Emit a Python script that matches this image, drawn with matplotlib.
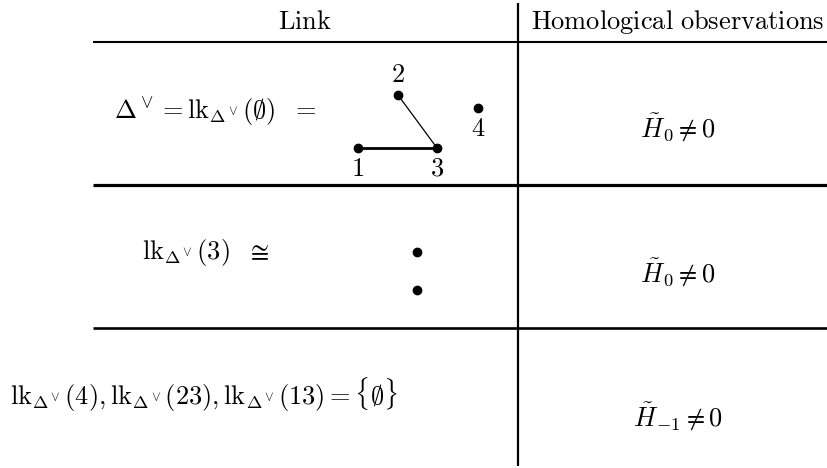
import matplotlib
matplotlib.use('Agg')
import matplotlib.pyplot as plt

plt.rcParams['mathtext.fontset'] = 'cm'

figWidth = 828
figHeight = 468

# Table rules: (x start, x end, y, thickness)
ruleRows = [(93, 828, 42, 1.5), (93, 828, 185, 2.3), (93, 828, 328, 1.9)]
ruleColumn = (518, 3, 466, 1.6)

headers = [r'$\mathrm{Link}$', r'$\mathrm{Homological\ observations}$']
headerX = [305, 678]
headerY = 22

leftTexts = [r'$\Delta^\vee = \mathrm{lk}_{\Delta^\vee}(\emptyset)\ \ =$',
             r'$\mathrm{lk}_{\Delta^\vee}(3)\ \ \cong$',
             r'$\mathrm{lk}_{\Delta^\vee}(4), \mathrm{lk}_{\Delta^\vee}(23), \mathrm{lk}_{\Delta^\vee}(13) = \{\emptyset\}$']
leftX = [114, 142, 10]
leftY = [112, 252, 395]

rightTexts = [r'$\tilde{H}_0 \neq 0$', r'$\tilde{H}_0 \neq 0$', r'$\tilde{H}_{-1} \neq 0$']
rightX = 678
rightY = [128, 273, 417]

# Complex drawn in the first row
vertexNames = ['1', '2', '3', '4']
vertexX = [358, 398, 437, 478]
vertexY = [148, 95, 148, 108]
labelX = [358, 398, 437, 478]
labelY = [169, 75, 169, 129]
edges = [('1', '3', 2.0), ('2', '3', 0.9)]

# Two points of lk(3)
pointX = [417, 417]
pointY = [252, 290]

fig = plt.figure(figsize=(figWidth / 100, figHeight / 100), dpi=100)
ax = fig.add_axes([0, 0, 1, 1])
ax.set_xlim(0, figWidth)
ax.set_ylim(figHeight, 0)
ax.axis('off')

for x0, x1, y, lw in ruleRows:
    ax.plot([x0, x1], [y, y], color='black', lw=lw, solid_capstyle='butt')
ax.plot([ruleColumn[0], ruleColumn[0]], [ruleColumn[1], ruleColumn[2]],
        color='black', lw=ruleColumn[3], solid_capstyle='butt')

fontSize = 19
for text, x in zip(headers, headerX):
    ax.text(x, headerY, text, fontsize=fontSize, ha='center', va='center')

for text, x, y in zip(leftTexts, leftX, leftY):
    ax.text(x, y, text, fontsize=fontSize, ha='left', va='center')

for text, y in zip(rightTexts, rightY):
    ax.text(rightX, y, text, fontsize=fontSize, ha='center', va='center')

for a, b, lw in edges:
    i = vertexNames.index(a)
    j = vertexNames.index(b)
    ax.plot([vertexX[i], vertexX[j]], [vertexY[i], vertexY[j]], color='black', lw=lw)

ax.plot(vertexX, vertexY, 'o', color='black', markersize=6, linestyle='none')
for name, x, y in zip(vertexNames, labelX, labelY):
    ax.text(x, y, '$' + name + '$', fontsize=fontSize, ha='center', va='center')

ax.plot(pointX, pointY, 'o', color='black', markersize=6, linestyle='none')

fig.savefig('out.png', dpi=100)
